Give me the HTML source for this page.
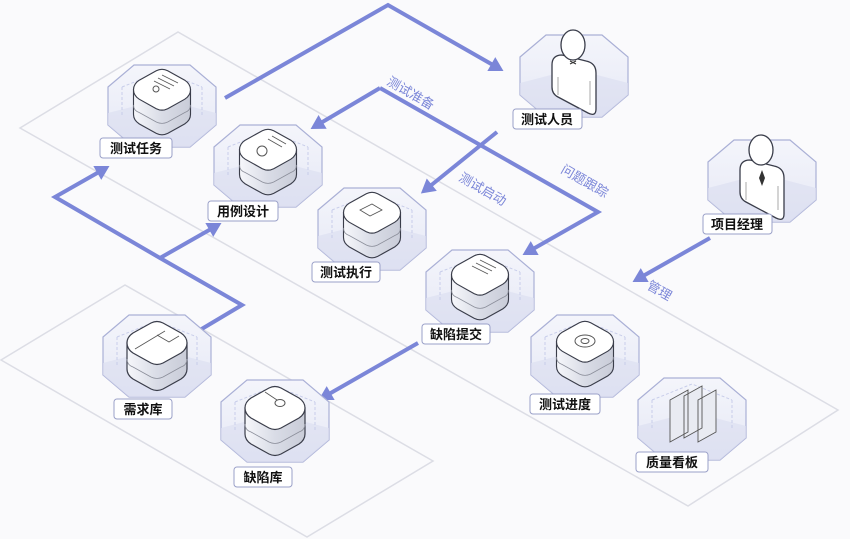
<!DOCTYPE html>
<html><head><meta charset="utf-8"><style>
html,body{margin:0;padding:0;background:#fafafc;}
svg{display:block}
text{font-family:"Liberation Sans","Noto Sans CJK SC",sans-serif;}
</style></head><body>
<svg width="850" height="539" viewBox="0 0 850 539" xmlns="http://www.w3.org/2000/svg">
<defs>
<linearGradient id="hexg" x1="0" y1="0" x2="0" y2="1">
<stop offset="0" stop-color="#f4f5fb"/><stop offset="0.55" stop-color="#eceef8"/><stop offset="1" stop-color="#dfe2f2"/></linearGradient>
<linearGradient id="side" x1="0" y1="0" x2="1" y2="0">
<stop offset="0" stop-color="#f6f7fb"/><stop offset="0.5" stop-color="#d9dce6"/><stop offset="1" stop-color="#c9ccd8"/></linearGradient>
<marker id="ar" markerWidth="6" markerHeight="6" refX="3" refY="3" orient="auto" markerUnits="strokeWidth">
<path d="M0.5,1 L4,3 L0.5,5 z" fill="#7b86d8"/></marker>
<g id="hex">
<path d="M-54,-18 L-28,-40 L28,-40 L54,-18 L54,20 L28,42 L-28,42 L-54,20 Z" fill="url(#hexg)" stroke="#aab0d6" stroke-width="1.2"/>
<path d="M-54,8 L0,-6 L54,8 L54,20 L28,42 L-28,42 L-54,20Z" fill="#dde0f1" opacity="0.7"/>
<path d="M-40,-18 L0,-34 L40,-18 M-40,-18 L-40,12 M40,-18 L40,12" fill="none" stroke="#c8cdea" stroke-dasharray="3,2"/>
</g>
<g id="cube">
<path d="M-30,-14 L-30,12 Q-30,18 -24,22 L-6,32 Q0,35 6,32 L24,22 Q30,18 30,12 L30,-14 Z" fill="url(#side)" stroke="#3a3d4a" stroke-width="1.2"/>
<path d="M-30,2 Q-30,8 -24,10 L-6,20 Q0,23 6,20 L24,10 Q30,8 30,2" fill="none" stroke="#8a8d99" stroke-width="0.8"/>
<path d="M-24,-24 L-6,-34 Q0,-37 6,-34 L24,-24 Q30,-20 30,-14 Q30,-8 24,-4 L6,6 Q0,9 -6,6 L-24,-4 Q-30,-8 -30,-14 Q-30,-20 -24,-24Z" fill="#fff" stroke="#3a3d4a" stroke-width="1.2"/>
</g>
<g id="hexp">
<path d="M-54,-18 L-28,-40 L28,-40 L54,-18 L54,20 L28,42 L-28,42 L-54,20 Z" fill="url(#hexg)" stroke="#aab0d6" stroke-width="1.2"/>
<path d="M-54,8 L0,-6 L54,8 L54,20 L28,42 L-28,42 L-54,20Z" fill="#dde0f1" opacity="0.7"/>
<path d="M-22,-10 Q-22,-20 -12,-20 L12,-14 Q22,-12 22,-2 L22,34 Q22,42 14,38 L-16,22 Q-22,19 -22,12Z" fill="#fff" stroke="#3a3d4a" stroke-width="1.3"/>
<path d="M-16,2 L-16,20 M16,6 L16,30" stroke="#aaa" stroke-width="1"/>
<ellipse cx="-1" cy="-30" rx="12" ry="15" fill="#fff" stroke="#3a3d4a" stroke-width="1.3"/>
</g>
</defs>

<path d="M20,128 L178,32 L838,410 L688,506 Z" fill="none" stroke="#dcdde5" stroke-width="1.5"/>
<path d="M1,360 L125,285 L433,461 L307,537 Z" fill="none" stroke="#dcdde5" stroke-width="1.5"/>

<g fill="none" stroke="#7b86d8" stroke-width="4" stroke-linejoin="miter">
<path d="M225,98 L388,5 L500,69" marker-end="url(#ar)"/>
<path d="M380,88 L314,127" marker-end="url(#ar)"/>
<path d="M380,88 L598,212 L526,253" marker-end="url(#ar)"/>
<path d="M497,132 L424,191" marker-end="url(#ar)"/>
<path d="M710,238 L636,280" marker-end="url(#ar)"/>
<path d="M200,330 L242,305 L160,258 L55,197 L106,168" marker-end="url(#ar)"/>
<path d="M160,258 L218,225" marker-end="url(#ar)"/>
<path d="M418,343 L322,398" marker-end="url(#ar)"/>
</g>
<g fill="#7b86d8" font-size="13">
<text transform="translate(386,84) rotate(30)">测试准备</text>
<text transform="translate(458,180) rotate(30)">测试启动</text>
<text transform="translate(560,172) rotate(30)">问题跟踪</text>
<text transform="translate(646,288) rotate(30)">管理</text>
</g>

<g transform="translate(162,105)"><use href="#hex"/><use href="#cube" transform="translate(0,-2) scale(0.95)"/>
<path d="M-8,-24 L8,-16 M-4,-27 L12,-19 M0,-30 L16,-22" stroke="#555" stroke-width="0.8"/><circle cx="-6" cy="-16" r="3" fill="none" stroke="#555"/></g>
<g transform="translate(268,165)"><use href="#hex"/><use href="#cube" transform="translate(0,-2) scale(0.95)"/>
<path d="M0,-26 L14,-18 M4,-29 L18,-21" stroke="#555" stroke-width="0.8"/><circle cx="-6" cy="-14" r="5" fill="none" stroke="#555"/></g>
<g transform="translate(372,228)"><use href="#hex"/><use href="#cube" transform="translate(0,-2) scale(0.95)"/>
<path d="M-12,-18 L0,-24 L10,-18 L-2,-12Z" fill="none" stroke="#555" stroke-width="0.8"/></g>
<g transform="translate(480,290)"><use href="#hex"/><use href="#cube" transform="translate(0,-2) scale(0.95)"/>
<path d="M-8,-24 L8,-16 M-4,-27 L12,-19 M0,-30 L16,-22" stroke="#555" stroke-width="0.8"/></g>
<g transform="translate(585,355)"><use href="#hex"/><use href="#cube" transform="translate(0,0) scale(0.95)"/>
<ellipse cx="0" cy="-14" rx="10" ry="6" fill="none" stroke="#555"/><ellipse cx="0" cy="-14" rx="4" ry="2.5" fill="none" stroke="#555"/></g>
<g transform="translate(692,418)"><use href="#hex"/>
<path d="M-22,-18 L-4,-28 L-4,14 L-22,24Z M-8,-22 L10,-32 L10,10 L-8,20Z M6,-18 L24,-28 L24,14 L6,24Z" fill="#e9ebf2" stroke="#555" stroke-width="0.9"/></g>
<g transform="translate(157,355)"><use href="#hex"/><use href="#cube" transform="translate(0,2)"/>
<path d="M-22,-6 L8,-24 M0,-20 L12,-13 L22,-19" fill="none" stroke="#555" stroke-width="0.8"/></g>
<g transform="translate(275,420)"><use href="#hex"/><use href="#cube" transform="translate(0,2)"/>
<path d="M-10,-28 L2,-20" stroke="#555" stroke-width="0.8"/><ellipse cx="5" cy="-17" rx="5" ry="3.5" fill="#fff" stroke="#555"/></g>

<g transform="translate(574,75)"><use href="#hexp"/><path d="M-4,-14 L2,-11 M-4,-11 L2,-14" stroke="#333"/></g>
<g transform="translate(762,180)"><use href="#hexp"/><path d="M0,-10 L3,-2 L0,6 L-3,-2Z" fill="#333"/></g>

<g font-size="13" fill="#111" font-weight="bold">
<g><rect x="100" y="138" width="72" height="20" rx="3" fill="#fff" stroke="#9aa0c8"/><text x="136" y="153" text-anchor="middle">测试任务</text></g>
<g><rect x="208" y="201" width="70" height="20" rx="3" fill="#fff" stroke="#9aa0c8"/><text x="243" y="216" text-anchor="middle">用例设计</text></g>
<g><rect x="312" y="262" width="68" height="20" rx="3" fill="#fff" stroke="#9aa0c8"/><text x="346" y="277" text-anchor="middle">测试执行</text></g>
<g><rect x="422" y="324" width="68" height="20" rx="3" fill="#fff" stroke="#9aa0c8"/><text x="456" y="339" text-anchor="middle">缺陷提交</text></g>
<g><rect x="513" y="109" width="69" height="20" rx="3" fill="#fff" stroke="#9aa0c8"/><text x="547" y="124" text-anchor="middle">测试人员</text></g>
<g><rect x="703" y="214" width="69" height="20" rx="3" fill="#fff" stroke="#9aa0c8"/><text x="737" y="229" text-anchor="middle">项目经理</text></g>
<g><rect x="530" y="394" width="70" height="20" rx="3" fill="#fff" stroke="#9aa0c8"/><text x="565" y="409" text-anchor="middle">测试进度</text></g>
<g><rect x="636" y="452" width="72" height="20" rx="3" fill="#fff" stroke="#9aa0c8"/><text x="672" y="467" text-anchor="middle">质量看板</text></g>
<g><rect x="114" y="399" width="58" height="20" rx="3" fill="#fff" stroke="#9aa0c8"/><text x="143" y="414" text-anchor="middle">需求库</text></g>
<g><rect x="234" y="467" width="58" height="20" rx="3" fill="#fff" stroke="#9aa0c8"/><text x="263" y="482" text-anchor="middle">缺陷库</text></g>
</g>
</svg>
</body></html>
